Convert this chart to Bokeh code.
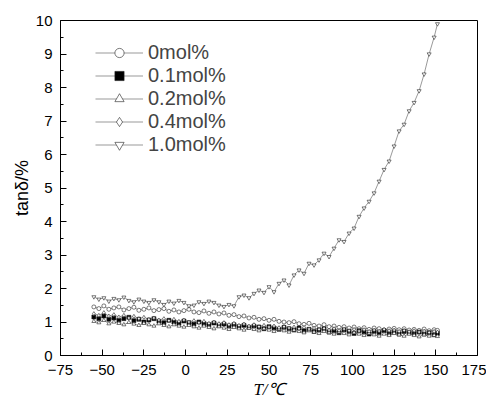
from bokeh.plotting import figure
from bokeh.models import Range1d, Legend, LegendItem, FixedTicker
from bokeh.embed import file_html
from bokeh.resources import INLINE

temps = [-55, -52, -49, -46, -43, -40, -37, -34, -31, -28,
         -25, -22, -19, -16, -13, -10, -7, -4, -1, 2,
         5, 8, 11, 14, 17, 20, 23, 26, 29, 32,
         35, 38, 41, 44, 47, 50, 53, 56, 59, 62,
         65, 68, 71, 74, 77, 80, 83, 86, 89, 92,
         95, 98, 101, 104, 107, 110, 113, 116, 119, 122,
         125, 128, 131, 134, 137, 140, 143, 146, 149, 151]

tan_0 = [1.45, 1.40, 1.48, 1.38, 1.42, 1.45, 1.36, 1.40, 1.44, 1.35,
         1.38, 1.42, 1.34, 1.37, 1.40, 1.32, 1.36, 1.30, 1.34, 1.38,
         1.30, 1.28, 1.33, 1.26, 1.30, 1.24, 1.27, 1.20, 1.22, 1.16,
         1.18, 1.12, 1.14, 1.08, 1.10, 1.05, 1.08, 1.02, 1.00, 0.98,
         1.01, 0.95, 0.93, 0.96, 0.90, 0.88, 0.92, 0.86, 0.88, 0.84,
         0.86, 0.82, 0.85, 0.80, 0.83, 0.78, 0.82, 0.80, 0.76, 0.79,
         0.81, 0.77, 0.80, 0.76, 0.78, 0.75, 0.79, 0.74, 0.77, 0.75]

tan_01 = [1.15, 1.10, 1.18, 1.08, 1.12, 1.05, 1.10, 1.14, 1.04, 1.08,
          1.00, 1.06, 1.10, 1.02, 0.98, 1.05, 1.00, 0.96, 1.03, 0.98,
          0.94, 1.00, 0.95, 0.92, 0.97, 0.90, 0.94, 0.88, 0.92, 0.86,
          0.90, 0.84, 0.88, 0.85, 0.80, 0.86, 0.82, 0.78, 0.84, 0.80,
          0.76, 0.82, 0.74, 0.78, 0.72, 0.76, 0.80, 0.70, 0.74, 0.68,
          0.76, 0.72, 0.66, 0.74, 0.70, 0.64, 0.72, 0.68, 0.74, 0.66,
          0.70, 0.64, 0.72, 0.68, 0.66, 0.70, 0.64, 0.68, 0.62, 0.66]

tan_02 = [1.02, 0.98, 1.05, 0.95, 1.00, 0.96, 0.92, 0.99, 0.94, 0.90,
          0.96, 0.92, 0.88, 0.95, 0.90, 0.86, 0.92, 0.88, 0.85, 0.90,
          0.86, 0.82, 0.88, 0.84, 0.80, 0.86, 0.82, 0.78, 0.84, 0.80,
          0.76, 0.82, 0.78, 0.74, 0.80, 0.76, 0.72, 0.78, 0.74, 0.70,
          0.76, 0.72, 0.68, 0.74, 0.70, 0.66, 0.72, 0.68, 0.64, 0.70,
          0.66, 0.62, 0.68, 0.64, 0.60, 0.66, 0.62, 0.58, 0.64, 0.60,
          0.66, 0.62, 0.58, 0.64, 0.60, 0.56, 0.62, 0.58, 0.60, 0.57]

tan_04 = [1.25, 1.20, 1.28, 1.18, 1.22, 1.15, 1.20, 1.12, 1.17, 1.10,
          1.14, 1.08, 1.12, 1.06, 1.10, 1.04, 1.08, 1.02, 1.06, 1.00,
          1.04, 0.98, 1.02, 0.96, 1.00, 0.95, 0.98, 0.92, 0.96, 0.90,
          0.94, 0.88, 0.92, 0.86, 0.90, 0.85, 0.88, 0.83, 0.86, 0.82,
          0.85, 0.80, 0.84, 0.79, 0.82, 0.78, 0.81, 0.76, 0.80, 0.75,
          0.79, 0.74, 0.78, 0.73, 0.77, 0.72, 0.76, 0.73, 0.78, 0.74,
          0.76, 0.72, 0.75, 0.71, 0.74, 0.70, 0.73, 0.69, 0.72, 0.70]

tan_10 = [1.75, 1.68, 1.72, 1.62, 1.70, 1.66, 1.74, 1.64, 1.60, 1.68,
          1.62, 1.58, 1.66, 1.60, 1.52, 1.62, 1.56, 1.64, 1.58, 1.48,
          1.50, 1.60, 1.55, 1.62, 1.58, 1.50, 1.46, 1.52, 1.48, 1.75,
          1.80, 1.72, 1.85, 1.95, 1.88, 2.05, 1.90, 2.15, 2.25, 2.10,
          2.40, 2.55, 2.45, 2.75, 2.70, 2.85, 3.05, 2.95, 3.20, 3.45,
          3.40, 3.65, 3.80, 4.15, 4.40, 4.60, 4.85, 5.20, 5.55, 5.80,
          6.25, 6.70, 6.90, 7.30, 7.55, 7.90, 8.40, 9.00, 9.50, 9.90]

series_labels = ["0mol%", "0.1mol%", "0.2mol%", "0.4mol%", "1.0mol%"]
series_values = [tan_0, tan_01, tan_02, tan_04, tan_10]
series_markers = ["circle", "square", "triangle", "diamond", "inverted_triangle"]
series_fill = ["white", "black", "white", "white", "white"]

x_ticks = [-75, -50, -25, 0, 25, 50, 75, 100, 125, 150, 175]
y_ticks = [0, 1, 2, 3, 4, 5, 6, 7, 8, 9, 10]

FONT = "Liberation Sans"

p = figure(frame_width=417, frame_height=335, output_backend="svg", toolbar_location=None,
           x_range=Range1d(-75, 175), y_range=Range1d(0, 10),
           min_border_left=60, min_border_right=9, min_border_top=20, min_border_bottom=10,
           x_axis_label="T/℃", y_axis_label="tanδ/%")
p.grid.visible = False
p.background_fill_color = "white"
p.border_fill_color = "white"
p.outline_line_color = "black"
p.outline_line_width = 1

for ax in (p.xaxis[0], p.yaxis[0]):
    ax.axis_line_color = "black"
    ax.major_tick_in = 6
    ax.major_tick_out = 0
    ax.minor_tick_in = 3
    ax.minor_tick_out = 0
    ax.major_tick_line_color = "black"
    ax.minor_tick_line_color = "black"
    ax.major_label_text_font = FONT
    ax.major_label_text_font_size = "15px"
    ax.major_label_text_color = "black"
    ax.axis_label_text_color = "black"

p.xaxis[0].ticker = FixedTicker(ticks=x_ticks,
                                minor_ticks=[t + 12.5 for t in x_ticks[:-1]])
p.yaxis[0].ticker = FixedTicker(ticks=y_ticks,
                                minor_ticks=[t + 0.5 for t in y_ticks[:-1]])
p.xaxis[0].major_label_standoff = 9
p.yaxis[0].major_label_standoff = 8
p.xaxis[0].axis_label_standoff = 2
p.xaxis[0].axis_label_text_font = "Liberation Serif"
p.xaxis[0].axis_label_text_font_style = "italic"
p.xaxis[0].axis_label_text_font_size = "17px"
p.yaxis[0].axis_label_standoff = 1
p.yaxis[0].axis_label_text_font = FONT
p.yaxis[0].axis_label_text_font_style = "normal"
p.yaxis[0].axis_label_text_font_size = "18px"

items = []
for lab, vals, mk, fc in zip(series_labels, series_values, series_markers, series_fill):
    ln = p.line(temps, vals, line_color="#555555", line_width=0.6)
    sc = p.scatter(temps, vals, marker=mk, size=4, fill_color=fc,
                   line_color="#222222", line_width=0.6)
    items.append(LegendItem(label=lab, renderers=[ln, sc]))

legend = Legend(items=items, location=(31, 195), orientation="vertical",
                glyph_width=48, glyph_height=23, label_height=23, spacing=0,
                label_standoff=5, padding=4, margin=0,
                label_text_font=FONT, label_text_font_size="20px",
                border_line_alpha=0, background_fill_alpha=0)
p.add_layout(legend, "center")

open("out.html", "w").write(file_html(p, INLINE))
